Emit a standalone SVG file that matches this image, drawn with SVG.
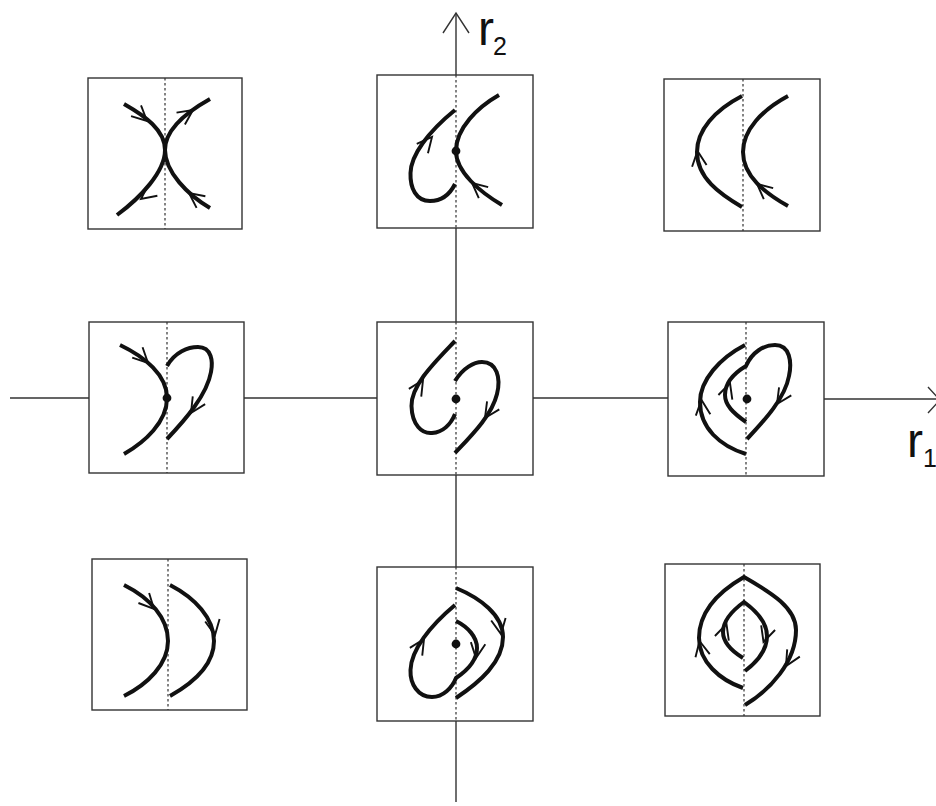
<svg xmlns="http://www.w3.org/2000/svg" xmlns:xlink="http://www.w3.org/1999/xlink" width="936" height="806" viewBox="0 0 936 806">
<style>
.box{fill:#fff;stroke:#333;stroke-width:1.4}
.ax{fill:none;stroke:#333;stroke-width:1.4}
.dot{fill:none;stroke:#333;stroke-width:1.2;stroke-dasharray:2.5 2.5}
.cv{fill:none;stroke:#111;stroke-width:4;stroke-linecap:butt;stroke-linejoin:miter}
.ar{fill:none;stroke:#111;stroke-width:1.9}
.pt{fill:#111}
.lb{font-family:"Liberation Sans",Arial,sans-serif;fill:#111}
</style>
<defs>
<path id="ar" d="M-15,-7.3 L0,0 L-15,7.3"/>
</defs>
<rect width="936" height="806" fill="#fff"/>
<g id="axes" class="ax">
<path d="M10,398 H89 M244,398 H377 M533,398 H668 M824,399 H940"/>
<path d="M928,387 L940,400 L928,413"/>
<path d="M456,13 V75 M456,228 V322 M456,475 V567 M456,721 V802"/>
<path d="M443,33 L456,13 L469,33"/>
</g>
<g id="labels" class="lb">
<text x="478" y="45" font-size="48">r</text>
<text x="493" y="55" font-size="25">2</text>
<text x="907" y="457" font-size="48">r</text>
<text x="923" y="467" font-size="25">1</text>
</g>

<g id="n1">
<rect class="box" x="88" y="78" width="154" height="151"/>
<path class="dot" d="M165,78 V229"/>
<path class="cv" d="M124,104 C145,116 165,130 165,150 C165,172 140,198 117,215"/>
<path class="cv" d="M210,99 C185,113 165,130 165,150 C165,172 188,195 210,208"/>
<g class="ar">
<use xlink:href="#ar" transform="translate(147,121) rotate(43)"/>
<use xlink:href="#ar" transform="translate(193,110) rotate(-35)"/>
<use xlink:href="#ar" transform="translate(141,199) rotate(143)"/>
<use xlink:href="#ar" transform="translate(189,193) rotate(-143)"/>
</g>
</g>

<g id="n2">
<rect class="box" x="377" y="75" width="156" height="153"/>
<path class="dot" d="M456,75 V228"/>
<path class="cv" d="M455,184 C448,198 438,201 430,201 C416,201 410,188 410.5,173 C411,155 428,132 455,110"/>
<path class="cv" d="M499,95 C478,107 456,128 456,151 C456,172 480,192 502,205"/>
<circle class="pt" cx="456" cy="151" r="4.4"/>
<g class="ar">
<use xlink:href="#ar" transform="translate(432,137) rotate(-50)"/>
<use xlink:href="#ar" transform="translate(472,183) rotate(-140)"/>
</g>
</g>

<g id="n3">
<rect class="box" x="664" y="79" width="156" height="152"/>
<path class="dot" d="M743,79 V231"/>
<path class="cv" d="M742,96 C715,110 697,130 697,152 C697,178 720,194 742,207"/>
<path class="cv" d="M788,96 C762,110 743,130 743,152 C743,176 765,193 788,206"/>
<g class="ar">
<use xlink:href="#ar" transform="translate(697.5,151) rotate(-97)"/>
<use xlink:href="#ar" transform="translate(757,184) rotate(-140)"/>
</g>
</g>

<g id="n4">
<rect class="box" x="89" y="322" width="155" height="151"/>
<path class="dot" d="M167,322 V473"/>
<path class="cv" d="M120,345 C145,357 167,375 167,398 C167,422 145,442 124,454"/>
<path class="cv" d="M167,366 C175,352 188,347 198,347 C212,347 213,362 211,372 C207,395 185,420 167,439"/>
<circle class="pt" cx="167" cy="398" r="4.4"/>
<g class="ar">
<use xlink:href="#ar" transform="translate(148,363) rotate(45)"/>
<use xlink:href="#ar" transform="translate(191,413) rotate(122)"/>
</g>
</g>

<g id="n5">
<rect class="box" x="377" y="322" width="156" height="153"/>
<path class="dot" d="M456,322 V475"/>
<path class="cv" d="M455,341 C435,362 411,385 411.5,406 C412,425 422,434 432,433 C443,432 451,424 455,414"/>
<path class="cv" d="M455,381 C463,368 474,362 482,362 C497,362 501,378 497,394 C492,415 472,435 455,453"/>
<circle class="pt" cx="456" cy="399" r="4.4"/>
<g class="ar">
<use xlink:href="#ar" transform="translate(423,380) rotate(-58)"/>
<use xlink:href="#ar" transform="translate(485,418) rotate(123)"/>
</g>
</g>

<g id="n6">
<rect class="box" x="668" y="322" width="156" height="154"/>
<path class="dot" d="M746,322 V476"/>
<path class="cv" d="M745,345 C720,358 700,380 700,402 C700,428 720,446 746,454"/>
<path class="cv" d="M746,422 C733,413 725,405 725,395 C725,382 736,372 746,366 C752,352 764,345 775,345 C790,345 792,362 789,376 C785,398 765,420 747,439"/>
<circle class="pt" cx="747" cy="399" r="4.4"/>
<g class="ar">
<use xlink:href="#ar" transform="translate(701.5,400) rotate(-96)"/>
<use xlink:href="#ar" transform="translate(730,383) rotate(-72)"/>
<use xlink:href="#ar" transform="translate(777,404) rotate(123)"/>
</g>
</g>

<g id="n7">
<rect class="box" x="92" y="559" width="155" height="151"/>
<path class="dot" d="M168,559 V710"/>
<path class="cv" d="M124,585 C150,598 168,618 168,641 C168,664 148,684 124,696"/>
<path class="cv" d="M170,585 C195,598 214,618 214,641 C214,664 195,682 170,696"/>
<g class="ar">
<use xlink:href="#ar" transform="translate(154,609) rotate(47)"/>
<use xlink:href="#ar" transform="translate(215,635) rotate(80)"/>
</g>
</g>

<g id="n8">
<rect class="box" x="377" y="567" width="156" height="154"/>
<path class="dot" d="M456,567 V721"/>
<path class="cv" d="M456,621 C468,627 477,637 477,648 C477,662 465,672 456,678 C452,688 443,697 432,697 C418,697 410,684 410.5,670 C411,650 430,626 455,605"/>
<path class="cv" d="M456,588 C480,598 503,615 503,637 C503,662 480,682 456,698"/>
<circle class="pt" cx="456" cy="644" r="4.4"/>
<g class="ar">
<use xlink:href="#ar" transform="translate(424,639) rotate(-58)"/>
<use xlink:href="#ar" transform="translate(476,658) rotate(98)"/>
<use xlink:href="#ar" transform="translate(501,634) rotate(80)"/>
</g>
</g>

<g id="n9">
<rect class="box" x="665" y="564" width="155" height="152"/>
<path class="dot" d="M744,564 V716"/>
<path class="cv" d="M743,688 C720,680 699,662 699,638 C699,612 718,592 744,577 C772,593 796,608 796,630 C796,662 770,690 745,705"/>
<path class="cv" d="M743,658 C730,650 723,642 723,632 C723,620 733,610 744,602 C755,610 767,622 767,636 C767,650 757,662 745,671"/>
<g class="ar">
<use xlink:href="#ar" transform="translate(699.5,641) rotate(-102)"/>
<use xlink:href="#ar" transform="translate(786,666) rotate(120)"/>
<use xlink:href="#ar" transform="translate(726.5,624) rotate(-72)"/>
<use xlink:href="#ar" transform="translate(763.5,642) rotate(108)"/>
</g>
</g>
</svg>
